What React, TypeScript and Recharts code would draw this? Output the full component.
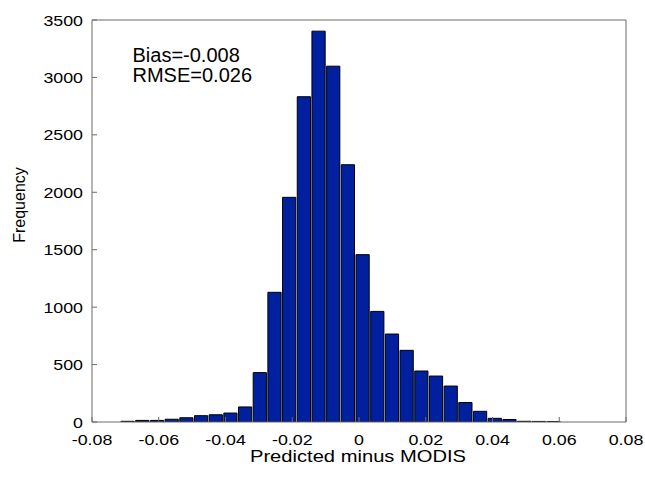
import React from 'react';
import { ComposedChart, Bar, XAxis, YAxis, Customized } from 'recharts';

const BIN_CENTERS = [
  -0.0694, -0.065, -0.0606, -0.0562, -0.0518, -0.0474, -0.043, -0.0386, -0.0342, -0.0298,
  -0.0254, -0.021, -0.0166, -0.0122, -0.0078, -0.0034, 0.001, 0.0054, 0.0098, 0.0142,
  0.0186, 0.023, 0.0274, 0.0318, 0.0362, 0.0406, 0.045, 0.0494, 0.0538, 0.0582,
];
const FREQUENCY = [
  6, 14, 14, 24, 37, 55, 63, 78, 131, 430,
  1129, 1956, 2832, 3403, 3098, 2240, 1457, 963, 766, 624,
  444, 400, 313, 170, 93, 32, 22, 6, 5, 4,
];
const BIN_WIDTH = 0.0044;
const X_TICKS = [-0.08, -0.06, -0.04, -0.02, 0, 0.02, 0.04, 0.06, 0.08];
const Y_TICKS = [0, 500, 1000, 1500, 2000, 2500, 3000, 3500];
const X_DOMAIN: [number, number] = [-0.08, 0.08];
const Y_DOMAIN: [number, number] = [0, 3500];
const ANNOTATIONS = ['Bias=-0.008', 'RMSE=0.026'];
const X_LABEL = 'Predicted minus MODIS';
const Y_LABEL = 'Frequency';

const data = BIN_CENTERS.map((x, i) => ({ x, count: FREQUENCY[i] }));

const W = 645;
const H = 478;
const MARGIN = { top: 19, right: 18, bottom: 26, left: 32 };
const Y_AXIS_W = 60;
const X_AXIS_H = 30;
const PLOT_W = W - MARGIN.left - Y_AXIS_W - MARGIN.right - 1;
const BAR_PX = (PLOT_W * BIN_WIDTH) / (X_DOMAIN[1] - X_DOMAIN[0]);

const FONT = '"Liberation Sans", Arial, Helvetica, sans-serif';
const AXIS_COLOR = '#6a6a6a';
const BAR_COLOR = '#0020a0';
const TICK_FONT = 15.5;
const STRETCH = 1.15;

const fmtX = (v: number) => (v === 0 ? '0' : v.toFixed(2));

const XTick = (props: any) => {
  const { x, y, payload } = props;
  return (
    <text
      transform={`translate(${x},${y + 12}) scale(${STRETCH},1)`}
      textAnchor="middle"
      fontSize={TICK_FONT}
      fontFamily={FONT}
      fill="#000"
    >
      {fmtX(payload.value)}
    </text>
  );
};

const YTick = (props: any) => {
  const { x, y, payload } = props;
  return (
    <text
      transform={`translate(${x},${y + 5.5}) scale(${STRETCH},1)`}
      textAnchor="end"
      fontSize={TICK_FONT}
      fontFamily={FONT}
      fill="#000"
    >
      {payload.value}
    </text>
  );
};

const Annotations = () => (
  <g fontFamily={FONT} fill="#000">
    <text x={132.5} y={61.5} fontSize={20}>{ANNOTATIONS[0]}</text>
    <text x={132.5} y={81.5} fontSize={20}>{ANNOTATIONS[1]}</text>
    <text
      x={0}
      y={0}
      fontSize={16}
      textAnchor="middle"
      transform="translate(358,462) scale(1.26,1)"
    >
      {X_LABEL}
    </text>
    <text
      x={0}
      y={0}
      fontSize={16}
      textAnchor="middle"
      transform="translate(25,205) rotate(-90)"
    >
      {Y_LABEL}
    </text>
  </g>
);

export default function App() {
  return (
    <div style={{ position: 'absolute', left: 0, top: 0, width: W, height: H, background: '#fff' }}>
      <ComposedChart
        width={W}
        height={H}
        data={data}
        margin={MARGIN}
        barCategoryGap={0}
        barGap={0}
        style={{ fontFamily: FONT }}
      >
        <XAxis
          dataKey="x"
          type="number"
          domain={X_DOMAIN}
          ticks={X_TICKS}
          allowDataOverflow
          height={X_AXIS_H}
          tickSize={-5}
          tickMargin={16}
          stroke={AXIS_COLOR}
          tick={<XTick />}
          interval={0}
        />
        <XAxis
          xAxisId="top"
          orientation="top"
          type="number"
          domain={X_DOMAIN}
          ticks={X_TICKS}
          allowDataOverflow
          height={1}
          tickSize={-5}
          tick={false}
          stroke={AXIS_COLOR}
          interval={0}
        />
        <YAxis
          type="number"
          domain={Y_DOMAIN}
          ticks={Y_TICKS}
          allowDataOverflow
          width={Y_AXIS_W}
          tickSize={-5}
          tickMargin={14}
          stroke={AXIS_COLOR}
          tick={<YTick />}
          interval={0}
        />
        <YAxis
          yAxisId="right"
          orientation="right"
          type="number"
          domain={Y_DOMAIN}
          ticks={Y_TICKS}
          allowDataOverflow
          width={1}
          tickSize={-5}
          tick={false}
          stroke={AXIS_COLOR}
          interval={0}
        />
        <Bar
          dataKey="count"
          fill={BAR_COLOR}
          stroke="#000"
          strokeWidth={1}
          barSize={BAR_PX}
          isAnimationActive={false}
        />
        <Customized component={<Annotations />} />
      </ComposedChart>
    </div>
  );
}
